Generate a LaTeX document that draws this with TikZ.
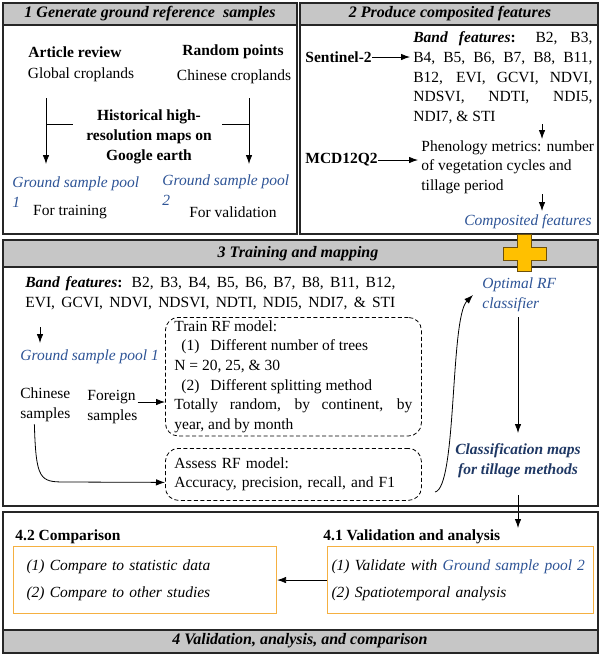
\documentclass[tikz,border=0pt]{standalone}
\usepackage{fontspec}
\setmainfont{Liberation Serif}
\usepackage{tikz}
\usetikzlibrary{arrows.meta}
\usetikzlibrary{positioning}
\tikzset{arr/.style = {-{Latex[length=9pt,width=6.5pt]}}}
\tikzset{panel/.style = {draw=black!85, line width=1.1pt}}
\tikzset{headbar/.style = {draw=black!85, line width=1.1pt, fill=gray!45}}
\tikzset{headtxt/.style = {font=\fontsize{16}{19}\selectfont\bfseries\itshape}}
\tikzset{pool/.style = {text=mblue, font=\itshape}}
\tikzset{dashbox/.style = {draw, dash pattern=on 4pt off 2.5pt, rounded corners=13pt, line width=0.8pt}}
\tikzset{obox/.style = {draw=morange, line width=1.1pt, font=\itshape, align=left}}
\definecolor{mblue}{RGB}{46,84,150}
\definecolor{mnavy}{RGB}{31,56,100}
\definecolor{morange}{RGB}{245,176,65}
\definecolor{myellow}{RGB}{255,192,0}
\definecolor{mbrown}{RGB}{110,80,10}
\hbadness=10000

\begin{document}
\begin{tikzpicture}[x=1pt, y=-1pt, inner sep=0pt, line width=0.8pt,
    execute at begin picture={\fontsize{15.5}{19.7}\selectfont}]
    \useasboundingbox (0,0) rectangle (600,656);

    % 1 ground reference samples
    \draw [panel] (3,3) rectangle (297,234);
    \draw [headbar] (3,3) rectangle (297,25);
    \node [headtxt] (t1) at (150,14) {1 Generate ground reference\ \ samples};
    \node [font=\bfseries] (artrev) at (75,52) {Article review};
    \node (globcrop) at (81,75) {Global croplands};
    \node [font=\bfseries] (randpt) at (233,52) {Random points};
    \node (chncrop) at (234,77) {Chinese croplands};
    \node [font=\bfseries, align=center] (hist) at (149,137) {Historical high-\\resolution maps on\\Google earth};
    \coordinate (la) at (46,98);  \coordinate (lb) at (46,164);  \coordinate (lc) at (73,124);
    \coordinate (ra) at (249,98); \coordinate (rb) at (249,164); \coordinate (rc) at (222,124);
    \draw [arr] (la) -- (lb);
    \draw (la |- lc) -- (lc);
    \draw [arr] (ra) -- (rb);
    \draw (ra |- rc) -- (rc);
    \node [pool, align=left, anchor=west] (poolA) at (12,192) {Ground sample pool\\1};
    \node (trainA) at (70,212) {For training};
    \node [pool, align=left, anchor=west] (poolB) at (162,190) {Ground sample pool\\2};
    \node (validA) at (233,212) {For validation};

    % 2 composited features
    \draw [panel] (300,3) rectangle (598,234);
    \draw [headbar] (300,3) rectangle (598,25);
    \node [headtxt] (t2) at (450,14) {2 Produce composited features};
    \node [font=\bfseries, anchor=west] (sent) at (305,57) {Sentinel-2};
    \node [text width=179, align=justify, anchor=west] (bandA) at (413,78)
      {\textbf{\textit{Band features}:} B2, B3,\linebreak B4, B5, B6, B7, B8, B11,\linebreak
       B12, EVI, GCVI, NDVI,\linebreak NDSVI, NDTI, NDI5,\linebreak NDI7, \& STI};
    \draw [arr] (sent.east) -- ([xshift=-3pt]sent.east -| bandA.west);
    \node [font=\bfseries, anchor=west] (mcd) at (305,160) {MCD12Q2};
    \node [align=left, anchor=west] (phen) at (421,167) {Phenology metrics: number\\of vegetation cycles and\\tillage period};
    \draw [arr] (mcd.east) -- ([xshift=-3pt]mcd.east -| phen.west);
    \coordinate (d1) at (542,139);
    \draw [arr] (d1 |- bandA.south) -- (d1);
    \node [pool, anchor=east] (compf) at (592,222) {Composited features};
    \coordinate (d2) at (542,211);
    \draw [arr] (d2 |- phen.south) -- (d2);

    % 3 training and mapping
    \draw [panel] (3,240) rectangle (598,506);
    \draw [headbar] (3,240) rectangle (598,267);
    \node [headtxt] (t3) at (298,254) {3 Training and mapping};
    \node [text width=370, align=justify, anchor=west] (bandB) at (25,293)
      {\textbf{\textit{Band features}:} B2, B3, B4, B5, B6, B7, B8, B11, B12,\linebreak
       EVI,\hfill GCVI,\hfill NDVI,\hfill NDSVI,\hfill NDTI,\hfill NDI5,\hfill NDI7,\hfill \&\hfill STI};
    \coordinate (a3t) at (40,327); \coordinate (a3b) at (40,343);
    \draw [arr] (a3t) -- (a3b);
    \node [pool, anchor=west] (poolC) at (20,357) {Ground sample pool 1};
    \node [align=left, anchor=west] (chn) at (20,405) {Chinese\\samples};
    \node [align=left, anchor=west] (frgn) at (87,407) {Foreign\\samples};
    \node [dashbox, text width=238, inner xsep=9pt, inner ysep=3pt, align=justify, anchor=north west] (trainbox) at (165,317)
      {Train RF model:\\
       \hspace*{7pt}(1)\hspace{11pt}Different number of trees\\
       N = 20, 25, \& 30\\
       \hspace*{7pt}(2)\hspace{11pt}Different splitting method\\
       Totally random, by continent, by\linebreak year, and by month};
    \node [dashbox, text width=238, inner xsep=9pt, inner ysep=6pt, minimum height=52, align=left, anchor=north west] (assessbox) at (165,448)
      {Assess RF model:\\Accuracy, precision, recall, and F1};
    \draw [arr] ([yshift=5pt]frgn.east) -- ([yshift=5pt]frgn.east -| trainbox.west);
    \coordinate (asin) at ([yshift=-8pt]assessbox.west);
    \draw [arr] ([xshift=-11pt,yshift=-2pt]chn.south) .. controls (36,480) and (40,482) .. (65,482) -- (asin);
    \node [pool, align=left, anchor=west] (optim) at (482,295) {Optimal RF\\classifier};
    \coordinate (asout) at (435,492);
    \draw [arr] (asout) .. controls (457,488) and (450,318) .. ([xshift=-9pt]optim.west);
    \node [font=\bfseries\itshape, text=mnavy, align=center] (classif) at (518,461) {Classification maps\\for tillage methods};
    \coordinate (o1) at (518,317); \coordinate (o2) at (518,433);
    \draw [arr] (o1) -- (o2);
    \coordinate (c1) at (518,495); \coordinate (c2) at (518,528);
    \draw [arr] (c1) -- (c2);

    % 4 validation, analysis, and comparison
    \draw [panel] (3,512) rectangle (598,653);
    \draw [headbar] (3,630) rectangle (598,653);
    \node [headtxt] (t4) at (300,641) {4 Validation, analysis, and comparison};
    \node [font=\bfseries, anchor=west] (cmp) at (15,537) {4.2 Comparison};
    \node [font=\bfseries, anchor=west] (val) at (323,537) {4.1 Validation and analysis};
    \node [obox, anchor=north west, text width=237, inner xsep=13pt, minimum height=67] (cmpbox) at (13,546)
      {(1) Compare to statistic data\\[7pt](2) Compare to other studies};
    \node [obox, anchor=north west, text width=258, inner xsep=4pt, minimum height=67] (valbox) at (327,546)
      {(1) Validate with \textcolor{mblue}{Ground sample pool 2}\\[7pt](2) Spatiotemporal analysis};
    \draw [arr] (valbox.west) -- (cmpbox.east);

    % plus sign between 2 and 3
    \draw [fill=myellow, draw=mbrown, line width=0.9pt]
      (517,234) -- (531,234) -- (531,247) -- (546,247) -- (546,260) -- (531,260) -- (531,271)
      -- (517,271) -- (517,260) -- (503,260) -- (503,247) -- (517,247) -- cycle;
  \end{tikzpicture}
\end{document}
